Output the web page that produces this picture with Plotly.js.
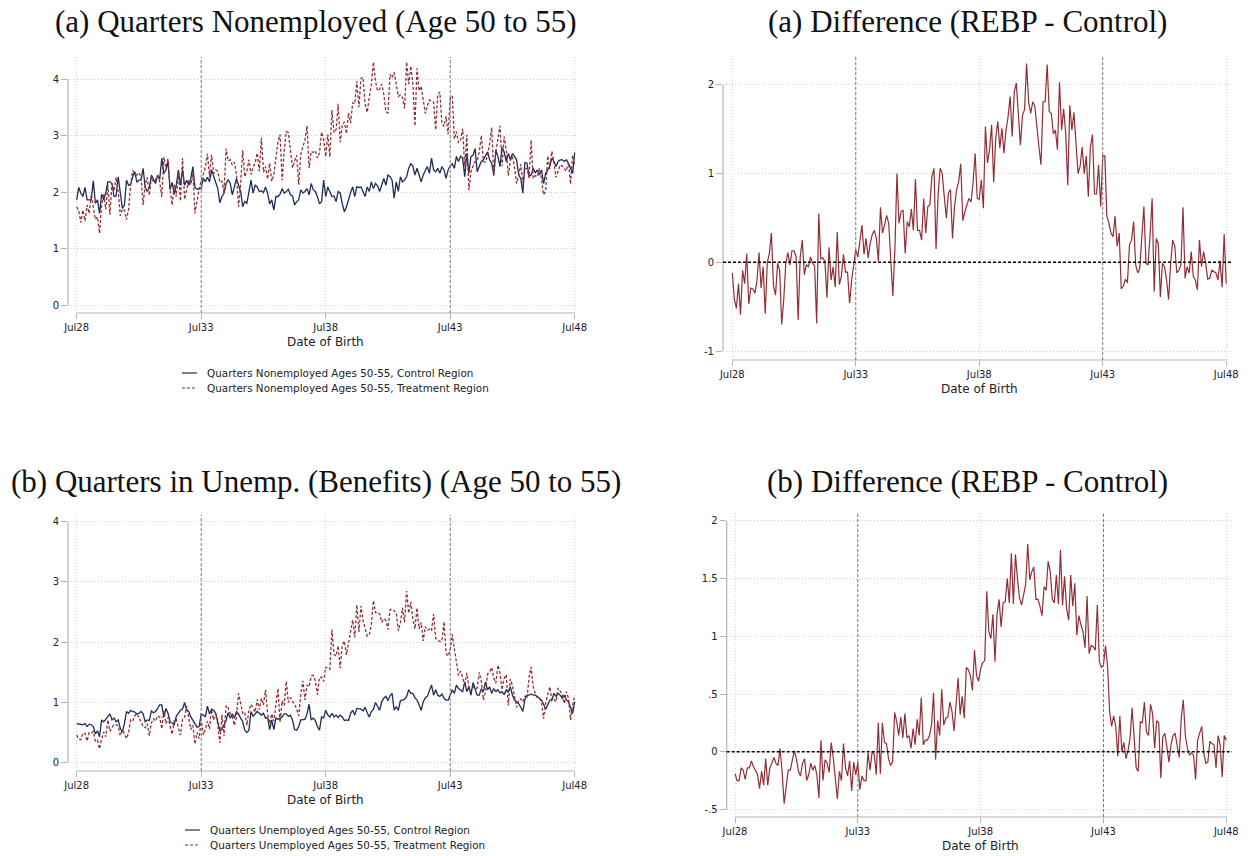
<!DOCTYPE html>
<html>
<head>
<meta charset="utf-8">
<script src="https://cdn.plot.ly/plotly-3.0.1.min.js"></script>
<style>html,body{margin:0;padding:0;background:#fff;}#chart{width:1249px;height:856px;}</style>
</head>
<body>
<div id="chart"></div>
<script>
// ---- Data (monthly, Jul 1928 .. Jul 1948) ----
const months = Array.from({length: 241}, (_, i) => i); // month offset from Jul28
const xTickVals = [0, 60, 120, 180, 240];
const xTickText = ['Jul28', 'Jul33', 'Jul38', 'Jul43', 'Jul48'];

const titleA = '(a) Quarters Nonemployed (Age 50 to 55)';
const titleADiff = '(a) Difference (REBP - Control)';
const titleB = '(b) Quarters in Unemp. (Benefits) (Age 50 to 55)';
const titleBDiff = '(b) Difference (REBP - Control)';
const legendA = ['Quarters Nonemployed Ages 50-55, Control Region', 'Quarters Nonemployed Ages 50-55, Treatment Region'];
const legendB = ['Quarters Unemployed Ages 50-55, Control Region', 'Quarters Unemployed Ages 50-55, Treatment Region'];
const xTitle = 'Date of Birth';

const controlA = [
1.86,2.08,1.98,1.92,2.08,1.86,1.86,1.86,2.2,1.8, 1.86,1.62,1.96,1.86,1.98,2.18,2.18,2.15,1.92,1.93,
2.27,1.95,1.71,1.77,2.21,2.12,2.14,2.27,2.36,2.17, 2.21,2.21,2.42,2.08,2.01,2.08,2.3,2.23,2.15,2.3,
2.22,2.6,2.33,2.39,2.54,2.04,2.17,1.96,2.12,2.39, 2.12,2.39,2.12,2.21,2.12,2.24,2.45,2.08,2.05,2.06,
2.06,
2.24,2.18,2.26,2.18,2.39,2.28,2.18,2.06,1.81,1.92, 1.98,2.15,2.22,2.15,1.95,2.09,2.24,2.12,2.01,1.74,
1.83,1.8,1.98,2.21,1.98,2.12,2.09,2.01,2.02,1.99, 2.09,1.98,1.79,1.86,1.68,1.92,1.92,1.96,2.06,1.98,
2.01,2.05,1.95,1.93,1.77,1.83,1.86,2.04,1.98,2.01, 2.06,1.95,2.15,2.04,2.01,1.92,1.79,1.83,2.21,
1.92,2.09,2.01,1.92,1.93,1.83,2.01,1.98,1.79,1.65, 1.74,1.89,1.99,2.09,1.92,2.09,2.08,2.09,2.01,1.92,
2.09,2.01,2.18,2.06,2.15,2.11,2.01,2.15,2.24,2.12, 2.3,2.27,2.21,1.89,2.18,2.01,2.27,2.18,2.21,2.27,
2.42,2.5,2.46,2.3,2.42,2.3,2.18,2.3,2.39,2.45, 2.33,2.6,2.39,2.36,2.42,2.33,2.45,2.39,2.24,2.39,
2.46,
2.5,2.42,2.63,2.54,2.63,2.6,2.27,2.68,2.33,2.63, 2.65,2.77,2.36,2.45,2.54,2.57,2.65,2.71,2.57,2.51,
2.3,2.74,2.63,2.45,2.79,2.71,2.54,2.68,2.57,2.68, 2.63,2.57,2.3,2.24,1.98,2.52,2.51,2.28,2.3,2.42,
2.34,2.39,2.3,2.39,2.15,2.33,2.39,2.46,2.6,2.54, 2.45,2.54,2.57,2.57,2.54,2.57,2.51,2.42,2.33,2.7
];

const treatA = [
1.74,1.66,1.46,1.68,1.49,1.77,1.62,1.96,1.73,1.51, 1.56,1.27,1.76,1.97,1.69,2.13,1.6,2.15,2.02,2.26,
2.01,1.58,1.7,1.68,1.51,1.7,2.13,2.38,2.33,2.3, 2.34,2.27,1.77,2.14,2.26,1.94,2.27,2.18,2.21,2.29,
2.18,1.91,2.62,2.43,2.59,2.05,1.77,2.13,1.92,2.34, 1.84,2.6,1.87,2.05,2.21,2.13,2.34,1.62,1.85,2.05,
2.2,
2.3,2.43,2.68,2.27,2.66,2.33,2.39,2.37,2.17,2.19, 1.99,2.77,2.55,2.57,2.48,2.53,2.3,1.74,2.15,2.74,
2.27,2.37,2.57,2.31,2.44,2.52,2.69,2.37,2.96,2.35, 2.45,2.23,2.51,2.19,2.31,2.57,2.89,3.02,2.21,2.74,
3.07,3.05,2.69,2.43,2.55,2.65,2.13,2.67,2.8,2.92, 3.17,2.42,2.72,2.7,2.73,2.6,2.69,3.06,2.93,
2.63,3.02,2.62,3.45,3.05,3.1,3.56,2.88,3.19,3.24, 3.03,3.4,3.22,3.58,3.56,3.96,3.5,4.01,4.03,3.56,
3.41,3.67,3.9,4.3,3.96,3.79,3.82,3.91,3.73,3.42, 3.4,4.08,4.02,4.12,3.88,3.69,3.72,3.67,3.48,4.3,
3.91,4.23,3.91,3.17,4.19,3.79,3.87,3.6,3.39,3.53, 3.63,3.6,3.59,3.1,3.72,3.77,3.22,3.16,3.34,3.02,
3.66,
3.7,2.94,3.07,2.87,2.92,3.12,2.45,3.01,2.03,2.36, 2.46,2.54,2.56,2.7,3.0,2.54,2.53,2.64,2.86,3.14,
2.29,2.71,2.94,3.17,2.46,2.98,2.75,2.29,2.56,2.63, 2.43,2.15,2.29,2.49,2.16,2.4,2.42,2.25,2.92,2.24,
2.29,2.27,2.42,2.23,1.95,2.02,2.64,2.41,2.72,2.53, 2.26,2.36,2.48,2.46,2.42,2.37,2.53,2.14,2.65,2.46
];

const diffA = [
-0.12,-0.42,-0.52,-0.24,-0.59,-0.09,-0.24,0.1,-0.47,-0.29, -0.3,-0.35,-0.2,0.11,-0.29,-0.05,-0.58,0,0.1,0.33,
-0.26,-0.37,-0.01,-0.09,-0.7,-0.42,-0.01,0.11,-0.03,0.13, 0.13,0.06,-0.65,0.06,0.25,-0.14,-0.03,-0.05,0.06,-0.01,
-0.04,-0.69,0.55,0.04,0.05,0.01,-0.4,0.17,-0.2,-0.05, -0.28,0.34,-0.25,-0.16,0.09,-0.11,-0.11,-0.46,-0.2,-0.01,
0.14,
0.06,0.25,0.42,0.09,0.27,0.05,0.21,0.31,0.36,0.27, 0.01,0.62,0.33,0.42,0.53,0.44,0.06,-0.38,0.14,1.0,
0.44,0.57,0.59,0.1,0.46,0.4,0.6,0.36,0.94,0.36, 0.36,0.25,0.72,0.33,0.63,0.65,0.97,1.06,0.15,0.76,
1.06,1.0,0.74,0.5,0.78,0.82,0.27,0.63,0.82,0.91, 1.11,0.47,0.57,0.66,0.72,0.68,0.9,1.23,0.72,
0.71,0.93,0.61,1.53,1.12,1.27,1.55,0.9,1.4,1.59, 1.29,1.51,1.23,1.49,1.64,1.87,1.42,1.92,2.02,1.64,
1.32,1.66,1.72,2.24,1.81,1.68,1.81,1.76,1.49,1.3, 1.1,1.81,1.81,2.23,1.7,1.68,1.45,1.49,1.27,2.03,
1.49,1.73,1.45,0.87,1.77,1.49,1.69,1.3,1.0,1.08, 1.3,1.0,1.2,0.74,1.3,1.44,0.77,0.77,1.1,0.63,
1.2,
1.2,0.52,0.44,0.33,0.29,0.52,0.18,0.33,-0.3,-0.27, -0.19,-0.23,0.2,0.25,0.46,-0.03,-0.12,-0.07,0.29,0.63,
-0.01,-0.03,0.31,0.72,-0.33,0.27,0.21,-0.39,-0.01,-0.05, -0.2,-0.42,-0.01,0.25,0.18,-0.12,-0.09,-0.03,0.62,-0.18,
-0.05,-0.12,0.12,-0.16,-0.2,-0.31,0.25,-0.05,0.12,-0.01, -0.19,-0.18,-0.09,-0.11,-0.12,-0.2,0.02,-0.28,0.32,-0.24
];

const controlB = [
0.65,0.64,0.63,0.63,0.65,0.6,0.64,0.63,0.6,0.48, 0.53,0.43,0.71,0.68,0.72,0.77,0.81,0.71,0.74,0.68,
0.71,0.57,0.51,0.65,0.85,0.82,0.87,0.85,0.84,0.81, 0.82,0.85,0.81,0.68,0.71,0.7,0.86,0.83,0.85,0.9,
0.96,0.96,0.76,0.9,0.82,0.68,0.65,0.63,0.77,0.83, 0.87,0.89,1.0,0.87,0.85,0.76,0.7,0.65,0.59,0.6,
0.81,
0.79,0.76,0.94,0.81,0.89,0.87,0.82,0.65,0.53,0.55, 0.63,0.7,0.83,0.74,0.81,0.74,0.85,0.81,0.74,0.68,
0.54,0.5,0.54,0.85,0.77,0.81,0.85,0.82,0.79,0.82, 0.74,0.75,0.55,0.71,0.55,0.74,0.72,0.74,0.76,0.81,
0.81,0.77,0.79,0.71,0.55,0.54,0.6,0.71,0.72,0.72, 0.81,0.97,0.71,0.74,0.7,0.6,0.54,0.76,0.74,
0.87,0.79,0.76,0.82,0.76,0.79,0.75,0.79,0.76,0.7, 0.71,0.7,0.82,0.87,0.79,0.9,0.89,0.89,0.86,0.92,
0.83,0.76,0.85,0.89,1.0,0.94,0.87,1.01,1.07,1.1, 1.03,1.11,1.15,0.87,0.93,0.87,1.03,1.04,1.05,1.1,
1.21,1.15,1.15,1.08,1.04,0.96,0.87,1.01,1.08,1.1, 1.18,1.29,1.12,1.21,1.12,1.1,1.14,1.07,1.04,1.04,
1.12,
1.21,1.15,1.29,1.23,1.21,1.18,1.34,1.18,1.26,1.12, 1.33,1.21,1.12,1.12,1.23,1.18,1.34,1.21,1.26,1.15,
1.23,1.18,1.21,1.16,1.18,1.13,1.21,1.18,1.26,1.12, 1.04,1.01,0.98,0.92,0.85,1.05,1.12,1.12,1.14,1.12,
1.12,1.1,1.07,1.04,0.97,0.89,0.96,1.04,1.04,1.15, 1.1,1.15,1.12,1.07,1.12,1.04,1.01,0.93,0.82,1.01
];

const treatB = [
0.46,0.39,0.38,0.49,0.49,0.36,0.5,0.49,0.52,0.35, 0.37,0.23,0.39,0.51,0.43,0.71,0.52,0.57,0.64,0.63,
0.61,0.45,0.54,0.48,0.4,0.5,0.71,0.69,0.78,0.82, 0.76,0.68,0.6,0.58,0.65,0.45,0.66,0.73,0.69,0.78,
0.76,0.56,0.86,0.65,0.75,0.58,0.47,0.71,0.72,0.58, 0.46,0.72,0.75,0.94,0.71,0.55,0.62,0.31,0.5,0.4,
0.72,
0.46,0.55,0.69,0.56,0.88,0.71,0.82,0.63,0.33,0.8, 0.44,0.95,0.91,0.81,0.75,0.62,0.76,1.15,1.0,0.82,
0.84,0.62,0.87,0.97,0.91,0.84,1.05,0.88,1.07,0.96, 1.21,0.81,0.65,0.81,0.69,0.97,1.23,0.67,1.03,0.95,
1.35,1.0,1.08,1.01,0.98,0.89,0.78,1.13,1.36,1.04, 1.29,1.26,1.44,1.45,1.36,1.13,1.42,1.42,1.35,
1.59,1.56,1.55,2.21,1.8,1.77,1.94,1.57,1.95,2.02, 1.79,1.99,2.12,2.37,2.08,2.62,2.17,2.6,2.36,2.25,
2.1,2.12,2.3,2.69,2.49,2.5,2.47,2.33,2.39,2.36, 2.21,2.54,2.55,2.52,2.49,2.19,2.32,2.57,2.33,2.85,
2.48,2.67,2.39,2.22,2.57,2.22,2.33,2.02,2.26,2.2, 2.22,2.19,2.47,2.06,2.04,2.01,2.02,2.34,1.82,1.77,
1.87,
2.13,1.89,1.64,1.45,1.52,1.4,1.3,1.49,1.26,1.2, 1.27,1.22,1.24,1.5,1.35,1.04,1.17,1.47,1.51,1.58,
1.4,1.32,1.62,1.49,1.21,1.4,1.46,0.95,1.39,1.28, 1.08,0.92,1.04,1.06,1.01,1.11,1.07,1.41,1.59,1.26,
1.15,1.07,1.06,1.01,0.73,0.99,1.13,1.26,1.03,1.05, 1.01,1.24,1.19,1.13,0.98,1.18,1.07,0.71,0.96,1.11
];

const diffB = [
-0.19,-0.25,-0.25,-0.14,-0.16,-0.24,-0.14,-0.14,-0.08,-0.13, -0.16,-0.2,-0.32,-0.17,-0.29,-0.06,-0.29,-0.14,-0.1,-0.05,
-0.1,-0.12,0.03,-0.17,-0.45,-0.32,-0.16,-0.16,-0.06,0.01, -0.06,-0.17,-0.21,-0.1,-0.06,-0.25,-0.2,-0.1,-0.16,-0.12,
-0.2,-0.4,0.1,-0.25,-0.07,-0.1,-0.18,0.08,-0.05,-0.25, -0.41,-0.17,-0.25,0.07,-0.14,-0.21,-0.08,-0.34,-0.09,-0.2,
-0.09,
-0.33,-0.21,-0.25,-0.25,-0.01,-0.16,0.0,-0.02,-0.2,0.25, -0.19,0.25,0.08,0.07,-0.06,-0.12,-0.09,0.34,0.26,0.14,
0.3,0.12,0.33,0.12,0.14,0.03,0.2,0.06,0.28,0.14, 0.47,0.06,0.1,0.1,0.14,0.23,0.51,-0.07,0.27,0.14,
0.54,0.23,0.29,0.3,0.43,0.35,0.18,0.42,0.64,0.32, 0.48,0.29,0.73,0.71,0.66,0.53,0.88,0.66,0.61,
0.72,0.77,0.79,1.39,1.04,0.98,1.19,0.78,1.19,1.32, 1.08,1.29,1.3,1.5,1.29,1.72,1.28,1.71,1.5,1.33,
1.27,1.36,1.45,1.8,1.49,1.56,1.6,1.32,1.32,1.26, 1.18,1.43,1.4,1.65,1.56,1.32,1.29,1.53,1.28,1.75,
1.27,1.52,1.24,1.14,1.53,1.26,1.46,1.01,1.18,1.1, 1.04,0.9,1.35,0.85,0.92,0.91,0.88,1.27,0.78,0.73,
0.75,
0.92,0.74,0.35,0.22,0.31,0.22,-0.04,0.31,0.0,0.08, -0.06,0.01,0.12,0.38,0.12,-0.14,-0.17,0.26,0.25,0.43,
0.17,0.14,0.41,0.33,0.03,0.27,0.25,-0.23,0.13,0.16, 0.04,-0.09,0.06,0.14,0.16,0.06,-0.05,0.29,0.45,0.14,
0.03,-0.03,-0.01,-0.03,-0.24,0.1,0.17,0.22,-0.01,-0.1, -0.09,0.09,0.07,0.06,-0.14,0.14,0.06,-0.22,0.14,0.1
];

// ---- Styling ----
const W = 1249, H = 856;
const NAVY = '#1f2c55';
const RED = '#8f2f38';
const AXC = '#b4b4b4';
const GRIDC = '#d2d2d2';
const SANS = 'DejaVu Sans, sans-serif';
const SERIF = 'Liberation Serif, serif';
const px = v => v / W;
const py = v => 1 - v / H;

const panels = [
  {ax: '', left: 68, right: 578, top: 57, bottom: 313, x0: 76.7, xs: 2.075, y0: 305, ys: 56.5,
   yt: [0,1,2,3,4], ytt: ['0','1','2','3','4']},
  {ax: '2', left: 723, right: 1232, top: 56, bottom: 360, x0: 732.3, xs: 2.058, y0: 262.3, ys: 88.7,
   yt: [-1,0,1,2], ytt: ['-1','0','1','2']},
  {ax: '3', left: 68, right: 578, top: 515, bottom: 771, x0: 76.7, xs: 2.075, y0: 762.7, ys: 60.25,
   yt: [0,1,2,3,4], ytt: ['0','1','2','3','4']},
  {ax: '4', left: 726.7, right: 1232, top: 513, bottom: 817, x0: 735, xs: 2.047, y0: 751.7, ys: 115.4,
   yt: [-0.5,0,0.5,1,1.5,2], ytt: ['-.5','0','.5','1','1.5','2']}
];

const layout = {
  width: W, height: H,
  margin: {l: 0, r: 0, t: 0, b: 0},
  paper_bgcolor: '#ffffff', plot_bgcolor: '#ffffff',
  showlegend: false,
  font: {family: SANS, size: 10, color: '#222'},
  shapes: [], annotations: []
};

panels.forEach(p => {
  const xr = [(p.left - p.x0) / p.xs, (p.right - p.x0) / p.xs];
  const yr = [(p.y0 - p.bottom) / p.ys, (p.y0 - p.top) / p.ys];
  const xa = 'xaxis' + p.ax, ya = 'yaxis' + p.ax;
  const xn = 'x' + p.ax, yn = 'y' + p.ax;
  layout[xa] = {
    domain: [px(p.left), px(p.right)], range: xr, anchor: yn,
    tickmode: 'array', tickvals: xTickVals, ticktext: xTickText,
    ticks: 'outside', ticklen: 5, tickwidth: 1, tickcolor: AXC,
    showline: false, zeroline: false,
    showgrid: true, gridcolor: GRIDC, griddash: '1px,2px', gridwidth: 1,
    tickfont: {family: SANS, size: 10, color: '#222'}, fixedrange: true
  };
  layout[ya] = {
    domain: [py(p.bottom), py(p.top)], range: yr, anchor: xn,
    tickmode: 'array', tickvals: p.yt, ticktext: p.ytt,
    ticks: 'outside', ticklen: 6, tickwidth: 1, tickcolor: AXC,
    showline: false, zeroline: false,
    showgrid: true, gridcolor: GRIDC, griddash: '1px,2px', gridwidth: 1,
    tickfont: {family: SANS, size: 10, color: '#222'}, fixedrange: true
  };
  layout.shapes.push({type: 'line', xref: xn + ' domain', x0: 0, x1: 0, yref: yn,
    y0: p.yt[0], y1: p.yt[p.yt.length - 1], line: {color: AXC, width: 1.2}});
  layout.shapes.push({type: 'line', xref: xn, x0: xTickVals[0], x1: xTickVals[4], yref: yn + ' domain',
    y0: 0, y1: 0, line: {color: AXC, width: 1.2}});
  [xTickVals[1], xTickVals[3]].forEach(v => layout.shapes.push({type: 'line', xref: xn, x0: v, x1: v,
    yref: yn + ' domain', y0: 0, y1: 1, line: {color: '#7a7a7a', width: 1, dash: '3px,2px'}}));
  layout.annotations.push({xref: 'paper', yref: 'paper', x: px((p.x0 + p.x0 + 240 * p.xs) / 2),
    y: py(p.bottom + 29), text: xTitle, showarrow: false, xanchor: 'center', yanchor: 'middle',
    font: {family: SANS, size: 12, color: '#222'}});
});

['2', '4'].forEach(a => layout.shapes.push({type: 'line', xref: 'x' + a + ' domain', x0: 0, x1: 1,
  yref: 'y' + a, y0: 0, y1: 0, line: {color: '#000', width: 1.6, dash: '3px,2px'}}));

[[titleA, 316, 22], [titleADiff, 967, 22], [titleB, 316, 481], [titleBDiff, 967, 481]].forEach(t =>
  layout.annotations.push({xref: 'paper', yref: 'paper', x: px(t[1]), y: py(t[2]), text: t[0],
    showarrow: false, xanchor: 'center', yanchor: 'middle', font: {family: SERIF, size: 31, color: '#111'}}));

function addLegend(labels, symX, textX, y1, y2) {
  [[labels[0], y1, NAVY, 'solid'], [labels[1], y2, RED, '3px,2px']].forEach(l => {
    layout.shapes.push({type: 'line', xref: 'paper', yref: 'paper', x0: px(symX), x1: px(symX + 15),
      y0: py(l[1]), y1: py(l[1]), line: {color: l[2], width: 1.2, dash: l[3]}});
    layout.annotations.push({xref: 'paper', yref: 'paper', x: px(textX), y: py(l[1]), text: l[0],
      showarrow: false, xanchor: 'left', yanchor: 'middle', font: {family: SANS, size: 10.4, color: '#222'}});
  });
}
addLegend(legendA, 182, 205, 373, 388);
addLegend(legendB, 185, 208, 830, 845);

const traces = [
  {x: months, y: controlA, xaxis: 'x', yaxis: 'y', type: 'scatter', mode: 'lines', name: legendA[0],
   line: {color: NAVY, width: 1.3}},
  {x: months, y: treatA, xaxis: 'x', yaxis: 'y', type: 'scatter', mode: 'lines', name: legendA[1],
   line: {color: RED, width: 1.3, dash: '3px,2px'}},
  {x: months, y: diffA, xaxis: 'x2', yaxis: 'y2', type: 'scatter', mode: 'lines', name: 'Difference',
   line: {color: RED, width: 1.2}},
  {x: months, y: controlB, xaxis: 'x3', yaxis: 'y3', type: 'scatter', mode: 'lines', name: legendB[0],
   line: {color: NAVY, width: 1.3}},
  {x: months, y: treatB, xaxis: 'x3', yaxis: 'y3', type: 'scatter', mode: 'lines', name: legendB[1],
   line: {color: RED, width: 1.3, dash: '3px,2px'}},
  {x: months, y: diffB, xaxis: 'x4', yaxis: 'y4', type: 'scatter', mode: 'lines', name: 'Difference',
   line: {color: RED, width: 1.2}}
];

Plotly.newPlot('chart', traces, layout, {displayModeBar: false, staticPlot: true});
</script>
</body>
</html>
